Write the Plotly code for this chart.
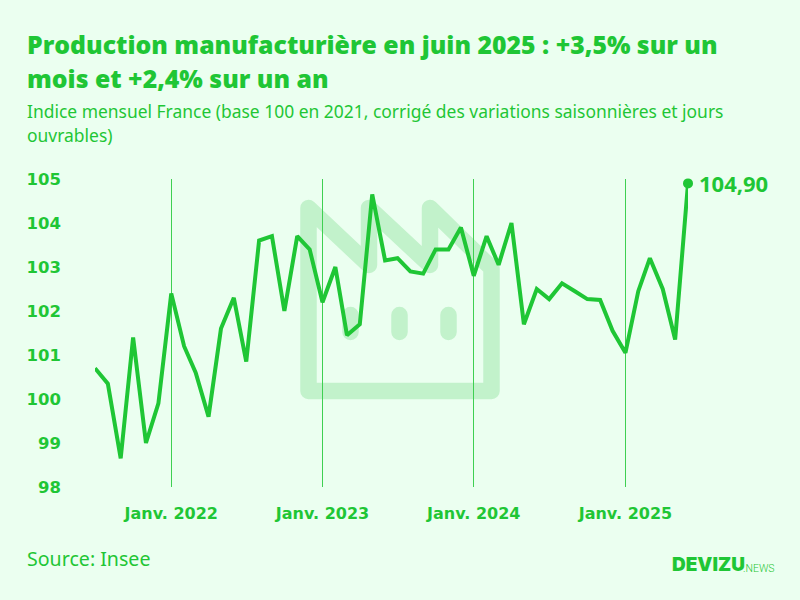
import base64
import plotly.graph_objects as go

BG = '#ebfff0'
GREEN = '#1fc635'
ICON = '#c2f2cb'
W, H = 800, 600

months = [
    '2021-07', '2021-08', '2021-09', '2021-10', '2021-11', '2021-12',
    '2022-01', '2022-02', '2022-03', '2022-04', '2022-05', '2022-06',
    '2022-07', '2022-08', '2022-09', '2022-10', '2022-11', '2022-12',
    '2023-01', '2023-02', '2023-03', '2023-04', '2023-05', '2023-06',
    '2023-07', '2023-08', '2023-09', '2023-10', '2023-11', '2023-12',
    '2024-01', '2024-02', '2024-03', '2024-04', '2024-05', '2024-06',
    '2024-07', '2024-08', '2024-09', '2024-10', '2024-11', '2024-12',
    '2025-01', '2025-02', '2025-03', '2025-04', '2025-05', '2025-06',
]
indice = [
    100.7, 100.35, 98.65, 101.4, 99.0, 99.9,
    102.4, 101.2, 100.6, 99.6, 101.6, 102.3,
    100.85, 103.6, 103.7, 102.0, 103.7, 103.4,
    102.2, 103.0, 101.45, 101.7, 104.65, 103.15,
    103.2, 102.9, 102.85, 103.4, 103.4, 103.9,
    102.8, 103.7, 103.05, 104.0, 101.7, 102.5,
    102.27, 102.63, 102.45, 102.27, 102.25, 101.55,
    101.05, 102.45, 103.2, 102.5, 101.35, 104.9,
]
x_ticks = ['2022-01', '2023-01', '2024-01', '2025-01']
x_labels = ['Janv. 2022', 'Janv. 2023', 'Janv. 2024', 'Janv. 2025']
y_ticks = [98, 99, 100, 101, 102, 103, 104, 105]


def px(x):
    return x / W


def py(y):
    return 1 - y / H


# usine en filigrane, coordonnees en pixels de l'image
icon_svg = (
    '<svg xmlns="http://www.w3.org/2000/svg" width="220" height="220" viewBox="290 190 220 220">'
    f'<g fill="none" stroke="{ICON}" stroke-width="16.5" stroke-linecap="round" stroke-linejoin="round">'
    '<path d="M308.5 208 V391 H491.5 V268 L430 208 V265 L369 208 V265 Z" fill="none"/>'
    '<path d="M350.5 315 V332 M399.5 315 V332 M448.5 315 V332"/>'
    '</g></svg>'
)
icon_src = 'data:image/svg+xml;base64,' + base64.b64encode(icon_svg.encode()).decode()

fig = go.Figure(go.Scatter(
    x=months,
    y=indice,
    mode='lines',
    line={'color': GREEN, 'width': 4},
    cliponaxis=False,
    hoverinfo='skip',
))
fig.add_trace(go.Scatter(
    x=months[-1:],
    y=indice[-1:],
    mode='markers',
    marker={'color': GREEN, 'size': 10},
    cliponaxis=False,
    hoverinfo='skip',
))


def label(text, x, y, size, weight=400, color=GREEN, family='Noto Sans', xanchor='left'):
    fig.add_annotation(
        text=text, xref='paper', yref='paper', x=px(x), y=py(y),
        xanchor=xanchor, yanchor='middle', showarrow=False,
        font={'family': family, 'size': size, 'color': color, 'weight': weight},
    )


label('Production manufacturière en juin 2025 : +3,5% sur un', 25, 43.5, 24.8, 800, family='Open Sans')
label('mois et +2,4% sur un an', 25, 78, 24.8, 800, family='Open Sans')
label('Indice mensuel France (base 100 en 2021, corrigé des variations saisonnières et jours', 25, 111, 17.45)
label('ouvrables)', 25, 135, 17.45)
label('Source: Insee', 25, 558, 19.6)
label('DEVIZU', 670, 564, 19, 900, family='Inter')
label('.NEWS', 741, 568, 10.5, 300, family='Roboto')

fig.add_annotation(
    text=f'{indice[-1]:.2f}'.replace('.', ','),
    x=months[-1], y=indice[-1], xref='x', yref='y',
    xanchor='left', yanchor='middle', xshift=9, showarrow=False,
    font={'family': 'Open Sans', 'size': 22, 'color': GREEN, 'weight': 700},
)

fig.update_layout(
    width=W,
    height=H,
    margin={'l': 0, 'r': 0, 't': 0, 'b': 0},
    paper_bgcolor=BG,
    plot_bgcolor=BG,
    showlegend=False,
    images=[{
        'source': icon_src, 'xref': 'paper', 'yref': 'paper',
        'x': px(290), 'y': py(190), 'sizex': 220 / W, 'sizey': 220 / H,
        'xanchor': 'left', 'yanchor': 'top', 'sizing': 'stretch', 'layer': 'below',
    }],
    xaxis={
        'domain': [px(95), px(688)],
        'range': [months[0], months[-1]],
        'automargin': False,
        'tickmode': 'array',
        'tickvals': x_ticks,
        'ticktext': x_labels,
        'showgrid': True,
        'gridcolor': '#3fd052',
        'gridwidth': 1,
        'zeroline': False,
        'showline': False,
        'ticks': '',
        'ticklabelstandoff': 15,
        'tickfont': {'family': 'DejaVu Sans', 'size': 16, 'color': GREEN, 'weight': 700},
    },
    yaxis={
        'domain': [py(487), py(179)],
        'range': [98, 105],
        'automargin': False,
        'tickmode': 'array',
        'tickvals': y_ticks,
        'showgrid': False,
        'zeroline': False,
        'showline': False,
        'ticks': '',
        'ticklabelstandoff': 33,
        'tickfont': {'family': 'DejaVu Sans', 'size': 16.5, 'color': GREEN, 'weight': 700},
    },
)

fig.write_html("out.html", config={'displayModeBar': False},
               post_script="document.body.style.margin = '0';")
